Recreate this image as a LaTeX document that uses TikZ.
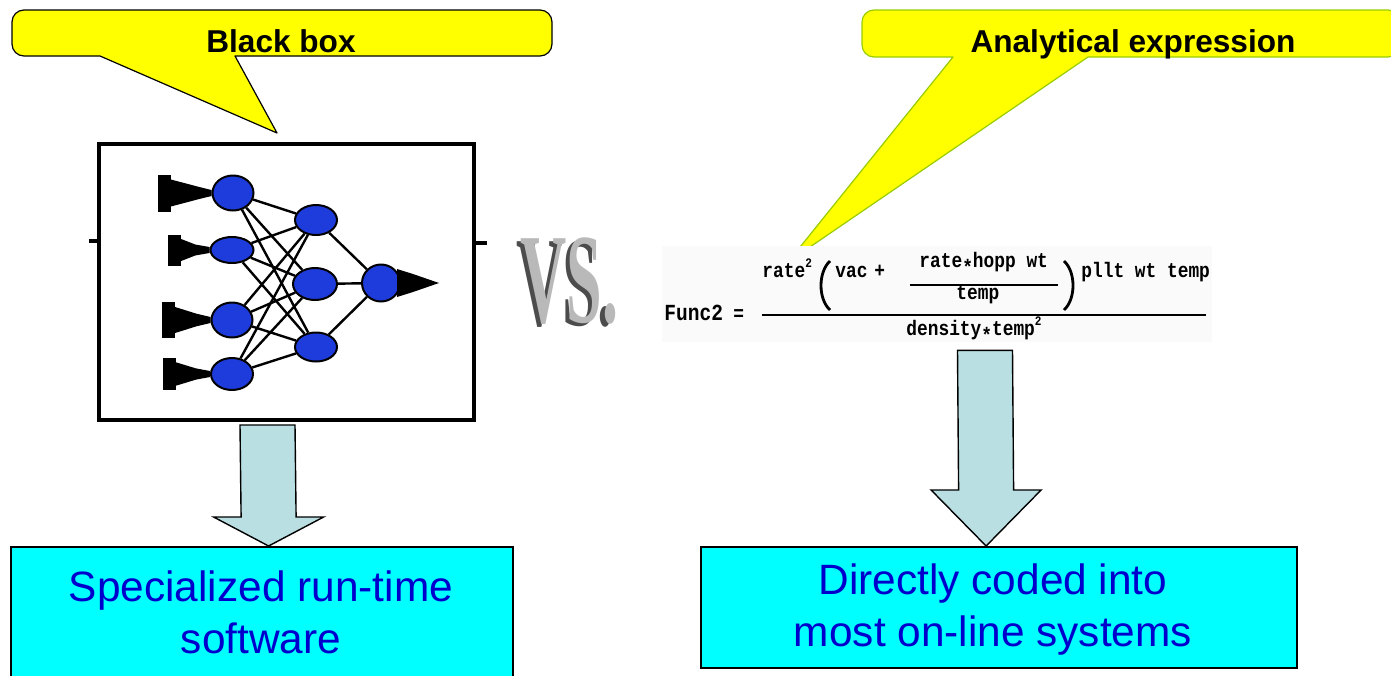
\documentclass[tikz,border=0pt]{standalone}
\usepackage{fontspec}
\setmainfont{Liberation Sans}
\newfontfamily\formfont{Liberation Mono}[FakeStretch=0.85]
\newfontfamily\vsfont{Liberation Serif}
\usetikzlibrary{shapes.geometric,calc}
\pgfdeclarelayer{back}
\pgfsetlayers{back,main}
\definecolor{calloutyellow}{RGB}{255,255,0}
\definecolor{calloutgreen}{RGB}{153,204,0}
\definecolor{arrowfill}{RGB}{185,223,227}
\definecolor{boxcyan}{RGB}{0,255,255}
\definecolor{boxtext}{RGB}{0,0,205}
\definecolor{neuronblue}{RGB}{30,60,220}

% input terminal of the network: a black block tapering into the neuron
\newcommand\drawfunnel[3]{%
  \fill ($(#1.west)+(-#2,-#3)$) rectangle ($(#1.west)+(-#2+13,#3)$);
  \fill ($(#1.west)+(-#2+12,-0.75*#3)$) -- ($(#1.west)+(-14,-0.35*#3)$)
     -- ($(#1.west)+(0,-3)$) -- ($(#1.west)+(0,3)$)
     -- ($(#1.west)+(-14,0.35*#3)$) -- ($(#1.west)+(-#2+12,0.75*#3)$) -- cycle;}

\begin{document}
\begin{tikzpicture}[x=0.5pt,y=-0.5pt,
  callout/.style={fill=calloutyellow,line width=0.6pt,line join=round},
  calltext/.style={font=\fontsize{15.8}{18}\selectfont\bfseries,inner sep=0pt},
  neuron/.style={ellipse,fill=neuronblue,draw=black,line width=1pt,inner sep=0pt},
  link/.style={line width=1.2pt},
  barrow/.style={fill=arrowfill,draw=black,line width=0.7pt,line join=miter},
  resultbox/.style={fill=boxcyan,draw=black,line width=1.1pt,inner sep=0pt},
  resulttext/.style={text=boxtext,font=\fontsize{21.2}{26}\selectfont,align=center,inner sep=0pt},
  ftext/.style={font=\formfont\bfseries\fontsize{10.5}{11}\selectfont,inner sep=0pt,anchor=base west},
  vstext/.style={font=\vsfont\bfseries\fontsize{64}{64}\selectfont,xscale=0.5,inner sep=0pt,anchor=base west}
]
\useasboundingbox (0,0) rectangle (1391,675);
\clip (0,0) rectangle (1391,675);

% ---- callouts ----
\draw[callout] (235,56) -- (277,133) -- (100,56) [rounded corners=6] -- (12,56) -- (12,10)
   -- (552,10) -- (552,56) [sharp corners] -- cycle;
\node[calltext,anchor=base] (bbtitle) at (281,52) {Black box};

\draw[callout,draw=calloutgreen] (1088,57) -- (788,262) -- (953,57) [rounded corners=6] -- (862,57)
   -- (862,10) -- (1400,10) -- (1400,57) [sharp corners] -- cycle;
\node[calltext,anchor=base] (aetitle) at (1133,52) {Analytical expression};

% ---- black box with the neural network ----
\node[draw,line width=2pt,minimum width=187.5pt,minimum height=138pt,inner sep=0pt] (bb) at (286.5,282) {};
\draw[line width=2.4pt] ($(bb.west)+(-8,-41)$) -- ($(bb.west)+(0,-41)$);
\draw[line width=2.4pt] ($(bb.east)+(0,-39)$) -- ($(bb.east)+(11,-39)$);

\node[neuron,minimum width=20.5pt,minimum height=17.5pt] (i1) at (233,193) {};
\node[neuron,minimum width=21.5pt,minimum height=13pt] (i2) at (232,250) {};
\node[neuron,minimum width=20.5pt,minimum height=17.5pt] (i3) at (232,320) {};
\node[neuron,minimum width=21pt,minimum height=16pt] (i4) at (232,374) {};
\node[neuron,minimum width=21pt,minimum height=15pt] (h1) at (316,220) {};
\node[neuron,minimum width=22pt,minimum height=16pt] (h2) at (315,284) {};
\node[neuron,minimum width=21pt,minimum height=14.5pt] (h3) at (316,347) {};
\node[neuron,minimum width=19pt,minimum height=18.5pt] (o) at (381,283) {};

\drawfunnel{i1}{54}{18.5}
\drawfunnel{i2}{42}{15.5}
\drawfunnel{i3}{49}{18}
\drawfunnel{i4}{47}{16}
\fill ($(o.east)+(-4,-14)$) -- ($(o.east)+(12,-9)$) -- ($(o.east)+(38,0)$)
   -- ($(o.east)+(12,9)$) -- ($(o.east)+(-4,14)$) -- cycle;

\begin{pgfonlayer}{back}
  \foreach \a in {i1,i2,i3,i4}
    \foreach \b in {h1,h2,h3}
      \draw[link] (\a) -- (\b);
  \foreach \b in {h1,h2,h3}
    \draw[link] (\b) -- (o);
\end{pgfonlayer}

% ---- "VS." in extruded letters: dark depth behind a lighter face ----
\node[vstext,text=black!70] (vsdepth) at (516,325) {VS.};
\node[vstext,text=gray!55] (vs) at (520,322) {VS.};

% ---- analytical expression ----
\node[fill=black!2,minimum width=275pt,minimum height=48pt,inner sep=0pt] (fbg) at (937,294) {};
\node[ftext,font=\formfont\bfseries\fontsize{11.5}{12}\selectfont] (fname) at (664,320) {Func2};
\node[ftext] (feq) at (733,320) {=};
\draw[line width=1pt] (762,315) -- (1206,315);
\node[ftext] (fr) at (762,277) {rate\raisebox{0.9ex}{\fontsize{6.5}{7}\selectfont 2}};
\draw[line width=1.4pt] (830,261) .. controls (818,272) and (818,299) .. (830,310);
\node[ftext] (fvac) at (835,277) {vac};
\node[ftext] (fplus) at (874,277) {+};
\node[ftext] (fin) at (919,267) {rate\raisebox{-0.35em}{*}hopp wt};
\draw[line width=0.8pt] (910,285) -- (1058,285);
\node[ftext] (fid) at (956,299) {temp};
\draw[line width=1.4pt] (1064,261) .. controls (1076,272) and (1076,299) .. (1064,310);
\node[ftext] (frest) at (1081,277) {pllt wt temp};
\node[ftext] (fden) at (906,335) {density\raisebox{-0.35em}{*}temp\raisebox{0.9ex}{\fontsize{6.5}{7}\selectfont 2}};

% ---- result boxes ----
\node[resultbox,minimum width=251pt,minimum height=70pt,anchor=north west] (sw) at (10,546) {};
\node[resulttext] (swt) at (261,612) {Specialized run-time\\software};
\node[resultbox,minimum width=298pt,minimum height=60.5pt,anchor=north west] (dc) at (700,546) {};
\node[resulttext] (dct) at (993,610) {Directly coded into\\most on-line systems};

% ---- block arrows ----
\coordinate (la) at ($(bb.south)+(-19,3)$);
\coordinate (lb) at ($(sw.north)+(6.5,0)$);
\draw[barrow] ($(la)+(-27.5,0)$) -- ($(lb)+(-27.5,-29)$) -- ($(lb)+(-55,-29)$) -- (lb)
   -- ($(lb)+(55,-29)$) -- ($(lb)+(27.5,-29)$) -- ($(la)+(27.5,0)$) -- cycle;
\coordinate (ra) at ($(fbg.south)+(48,8)$);
\coordinate (rb) at ($(dc.north)+(-13,0)$);
\draw[barrow] ($(ra)+(-27.5,0)$) -- ($(rb)+(-27.5,-56)$) -- ($(rb)+(-55,-56)$) -- (rb)
   -- ($(rb)+(55,-56)$) -- ($(rb)+(27.5,-56)$) -- ($(ra)+(27.5,0)$) -- cycle;
\end{tikzpicture}
\end{document}
